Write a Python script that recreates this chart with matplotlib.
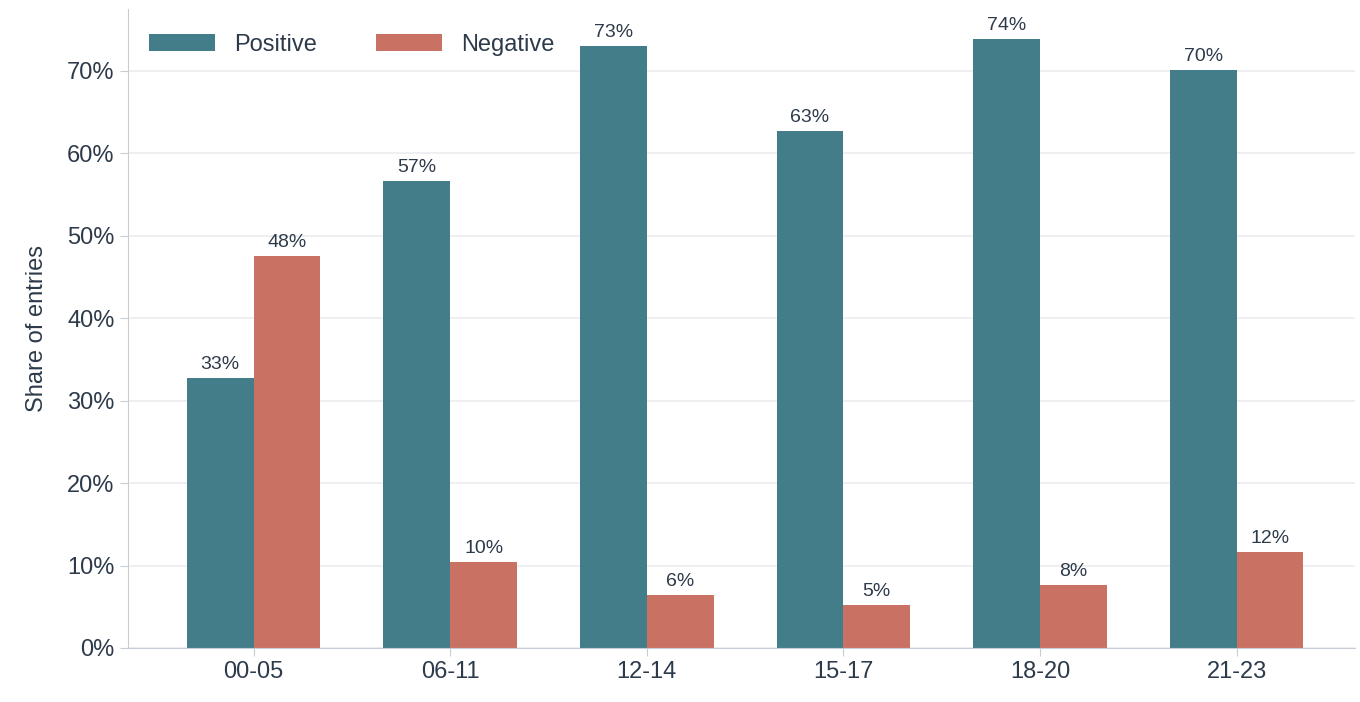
import numpy as np
import matplotlib.pyplot as plt
from matplotlib.ticker import PercentFormatter

plt.rcParams['font.family'] = ['Liberation Sans', 'DejaVu Sans']

groups = ["00-05", "06-11", "12-14", "15-17", "18-20", "21-23"]
positive = [32.8, 56.6, 73.0, 62.7, 73.9, 70.1]
negative = [47.5, 10.4, 6.4, 5.2, 7.6, 11.6]

fig = plt.figure(figsize=(13.6, 7.02), dpi=100)
ax = fig.add_axes([0.094, 0.077, 0.902, 0.91])
x = np.arange(len(groups))
w = 0.34
b1 = ax.bar(x - w / 2, positive, w, color="#437d8a", label="Positive")
b2 = ax.bar(x + w / 2, negative, w, color="#c97264", label="Negative")
for bars, vals in ((b1, positive), (b2, negative)):
    for b, v in zip(bars, vals):
        ax.text(b.get_x() + b.get_width() / 2, v + 0.6, f"{v:.0f}%", ha="center", va="bottom",
                fontsize=14, color="#2d3a4a")

ax.set_xlim(-0.64, 5.6)
ax.set_ylim(0, 77.5)
ax.set_yticks(range(0, 80, 10))
ax.yaxis.set_major_formatter(PercentFormatter(decimals=0))
ax.set_xticks(x)
ax.set_xticklabels(groups)
ax.tick_params(labelsize=17, colors="#2d3a4a", length=6, color="#c8ccd4")
ax.set_ylabel("Share of entries", fontsize=17, color="#2d3a4a", labelpad=14)
ax.grid(axis="y", color="#ececf0", linewidth=1.2)
ax.set_axisbelow(True)
for s in ["top", "right"]:
    ax.spines[s].set_visible(False)
for s in ["left", "bottom"]:
    ax.spines[s].set_color("#c8ccd4")
ax.legend(loc="upper left", ncol=2, frameon=False, fontsize=17, labelcolor="#2d3a4a",
          bbox_to_anchor=(0.0, 0.995), handlelength=2.8, columnspacing=2.5)
fig.text(0.62, 1.003, "Sentiment mix by time of day group (share of entries per group)", ha="center",
         va="bottom", fontsize=22, fontweight="bold", color="#2d3a4a")

fig.savefig("out.png")
